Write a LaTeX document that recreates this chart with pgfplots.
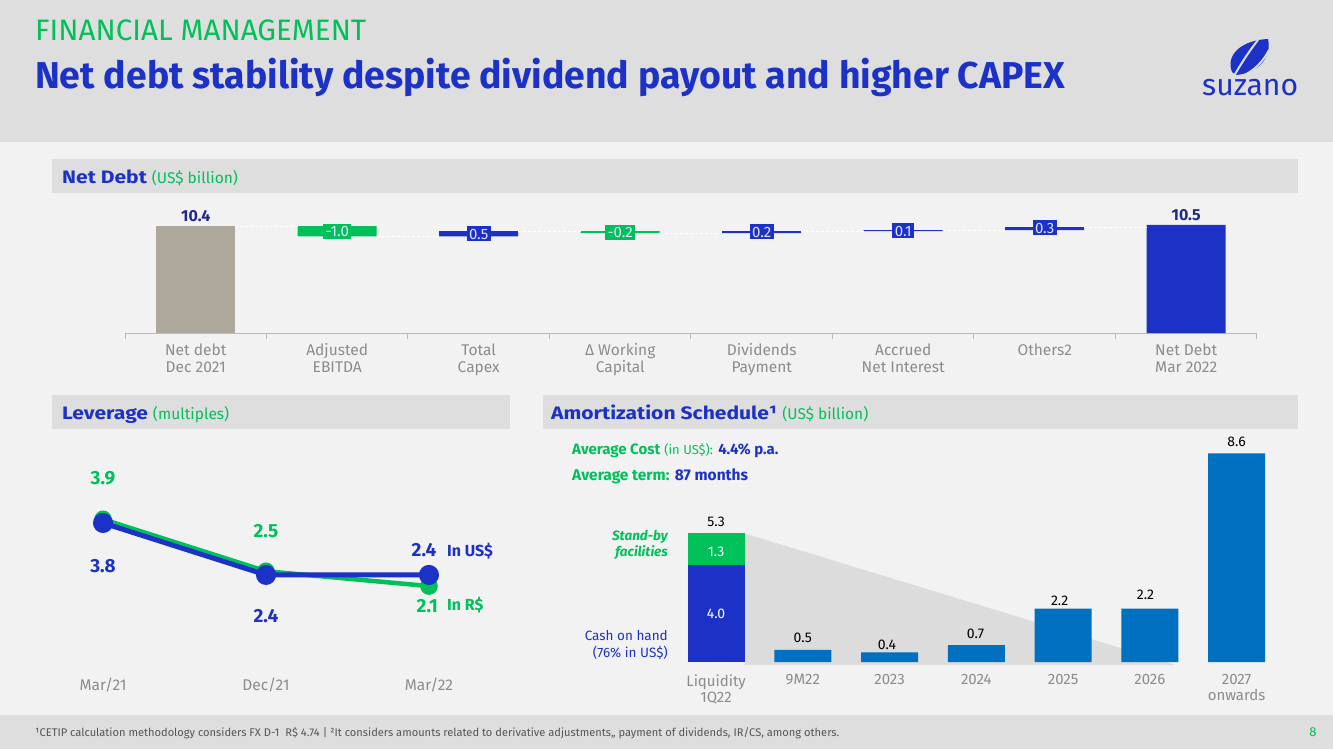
\documentclass[border=0pt]{standalone}
\usepackage{pgfplots}
\pgfplotsset{compat=1.18}
\usepackage{fontspec}
\setmainfont{Fira Sans}
\usepackage{graphicx}
\definecolor{sblue}{HTML}{1C31C5}
\definecolor{sgreen}{HTML}{00C05A}
\definecolor{sgray}{HTML}{ADA79C}
\definecolor{abar}{HTML}{0070C0}
\definecolor{bg}{HTML}{F2F2F2}
\definecolor{band}{HTML}{DEDEDE}
\definecolor{ticktxt}{HTML}{8C8C8C}
\definecolor{dblue}{HTML}{1F2A8A}
\definecolor{tri}{HTML}{DCDCDC}
\definecolor{foot}{HTML}{555555}
\newcommand\fs[2]{\fontsize{#1}{#2}\selectfont}
\newcommand\hdr[2]{\scalebox{1.17}[1]{\fs{18}{21}\bfseries\textcolor{sblue}{#1}}\hspace{5pt}\textcolor{sgreen}{\fs{15.5}{18}#2}}
\begin{document}
\begin{tikzpicture}[x=1pt,y=-1pt]
\path[use as bounding box] (0,0) rectangle (1333,749);
\fill[bg] (0,0) rectangle (1333,749);
\fill[band] (0,0) rectangle (1333,142);
\fill[band] (0,715) rectangle (1333,749);
\fill[band] (52,159) rectangle (1298,193);
\fill[band] (52,395) rectangle (510,429);
\fill[band] (543,395) rectangle (1298,429);
% header
\node[anchor=base west, inner sep=0, text=sgreen] at (35,41) {\resizebox{331pt}{!}{\fs{26}{30}FINANCIAL MANAGEMENT}};
\node[anchor=base west, inner sep=0, text=sblue] at (35,89) {\resizebox{1030pt}{!}{\fs{34}{40}\bfseries Net debt stability despite dividend payout and higher CAPEX}};
% logo
\fill[sblue] (1232,72) .. controls (1225,54) and (1243,40) .. (1268,39) .. controls (1272,57) and (1259,73) .. (1236,75) -- cycle;
\draw[band, line width=2pt] (1234,76) .. controls (1242,62) and (1250,50) .. (1258,40);
\draw[band, line width=2pt] (1240,77) .. controls (1253,72) and (1263,62) .. (1269,50);
\node[anchor=base west, inner sep=0, text=sblue] at (1202,96) {\resizebox{96pt}{!}{\fs{26}{30}suzano}};
% section headers
\node[anchor=base west, inner sep=0] at (62,183) {\hdr{Net Debt}{(US\$ billion)}};
\node[anchor=base west, inner sep=0] at (62,419) {\hdr{Leverage}{(multiples)}};
\node[anchor=base west, inner sep=0] at (551,419) {\hdr{Amortization Schedule¹}{(US\$ billion)}};
% footer
\node[anchor=base west, inner sep=0, text=foot] at (35,736) {\resizebox{804pt}{!}{\fs{11}{13}¹CETIP calculation methodology considers FX D-1~ R\$ 4.74 | ²It considers amounts related to derivative adjustments,, payment of dividends, IR/CS, among others.}};
\node[anchor=base, inner sep=0, text=sgreen] at (1313,736) {\fs{13}{15}8};

% ---------------- waterfall ----------------
\begin{axis}[at={(125pt,-333pt)}, anchor=south west, scale only axis,
  width=1132pt, height=120pt, xmin=-0.5, xmax=7.5, ymin=0, ymax=11.664,
  ybar stacked, reverse stacked plots=false, bar width=79pt, clip=false,
  axis x line*=bottom, axis y line=none,
  x axis line style={draw=ticktxt!60, line width=1pt, -},
  xtick={0,...,7}, major tick length=0pt,
  minor xtick={-0.5,0.5,...,7.5}, minor tick length=6pt,
  minor tick style={draw=ticktxt!60, line width=1pt},
  tick align=outside,
  xticklabels={{Net debt\\Dec 2021},{Adjusted\\EBITDA},{Total\\Capex},{Δ Working\\Capital},{Dividends\\Payment},{Accrued\\Net Interest},{Others2},{Net Debt\\Mar 2022}},
  xticklabel style={font=\fs{15.5}{17}, text=ticktxt, align=center, anchor=north, yshift=-7pt},
  ]
\addplot[draw=none, fill=none] coordinates {(0,0) (1,9.4) (2,9.4) (3,9.7) (4,9.7) (5,9.9) (6,10.0) (7,0)};
\addplot[draw=none, fill=sgray] coordinates {(0,10.4) (1,0) (2,0) (3,0) (4,0) (5,0) (6,0) (7,0)};
\addplot[draw=none, fill=sgreen] coordinates {(0,0) (1,1.0) (2,0) (3,0.2) (4,0) (5,0) (6,0) (7,0)};
\addplot[draw=none, fill=sblue] coordinates {(0,0) (1,0) (2,0.5) (3,0) (4,0.2) (5,0.1) (6,0.3) (7,10.5)};
\addplot[white, line width=0.8pt, densely dashed, sharp plot, stack plots=false, forget plot, unbounded coords=jump] coordinates {
 (0.28,10.4) (0.72,10.4) (0.8,nan)
 (1.28,9.4) (1.72,9.4) (1.8,nan)
 (2.28,9.9) (2.72,9.9) (2.8,nan)
 (3.28,9.7) (3.72,9.7) (3.8,nan)
 (4.28,9.9) (4.72,9.9) (4.8,nan)
 (5.28,10.0) (5.72,10.0) (5.8,nan)
 (6.28,10.3) (6.72,10.3)};
\tikzset{lbl/.style={text=white!88!blue, inner xsep=2.5pt, inner ysep=2pt, font=\fs{15}{17}, text height=11pt, text depth=0pt}}
\node[lbl, fill=sgreen] at (axis cs:1,9.9) {-1.0};
\node[lbl, fill=sblue] at (axis cs:2,9.65) {0.5};
\node[lbl, fill=sgreen] at (axis cs:3,9.8) {-0.2};
\node[lbl, fill=sblue] at (axis cs:4,9.85) {0.2};
\node[lbl, fill=sblue] at (axis cs:5,9.95) {0.1};
\node[lbl, fill=sblue] at (axis cs:6,10.25) {0.3};
\node[anchor=south, text=dblue, font=\fs{16}{18}\bfseries, inner sep=4pt] at (axis cs:0,10.4) {10.4};
\node[anchor=south, text=dblue, font=\fs{16}{18}\bfseries, inner sep=4pt] at (axis cs:7,10.5) {10.5};
\end{axis}

% ---------------- leverage ----------------
\begin{axis}[at={(60pt,-664pt)}, anchor=south west, scale only axis,
  width=434pt, height=167pt, xmin=-0.264, xmax=2.399, ymin=0, ymax=4.5,
  clip=false, axis x line*=bottom, axis y line=none,
  x axis line style={draw=none}, major tick length=0pt,
  xtick={0,1,2}, xticklabels={Mar/21,Dec/21,Mar/22},
  xticklabel style={font=\fs{15.5}{17}, text=ticktxt, anchor=north, yshift=-10pt},
  ]
\addplot[sgreen, line width=4.5pt, mark=*, mark size=6.5pt] coordinates {(0,3.9) (1,2.5) (2,2.1)};
\addplot[sblue, line width=5pt, mark=*, mark size=7.5pt] coordinates {(0,3.8) (1,2.4) (2,2.4)};
\tikzset{vl/.style={font=\fs{19}{22}\bfseries, inner sep=0pt}}
\node[vl, text=sgreen] at (axis cs:0,5.0) {3.9};
\node[vl, text=sblue] at (axis cs:0,2.65) {3.8};
\node[vl, text=sgreen] at (axis cs:1,3.58) {2.5};
\node[vl, text=sblue] at (axis cs:1,1.28) {2.4};
\node[vl, text=sblue] at (axis cs:1.97,3.06) {2.4};
\node[vl, text=sgreen] at (axis cs:1.99,1.55) {2.1};
\node[anchor=west, inner sep=0, text=sblue, font=\fs{16}{18}\bfseries] at (axis cs:2.11,3.05) {In US\$};
\node[anchor=west, inner sep=0, text=sgreen, font=\fs{16}{18}\bfseries] at (axis cs:2.11,1.58) {In R\$};
\end{axis}

% ---------------- amortization ----------------
\begin{axis}[at={(664pt,-662pt)}, anchor=south west, scale only axis,
  width=616pt, height=218.25pt, xmin=-0.6, xmax=6.5, ymin=0, ymax=9,
  ybar stacked, reverse stacked plots=false, bar width=57pt, clip=false,
  axis x line*=bottom, axis y line=none,
  x axis line style={draw=none}, major tick length=0pt,
  xtick={0,...,6},
  xticklabels={{Liquidity\\1Q22},9M22,2023,2024,2025,2026,{2027\\onwards}},
  xticklabel style={font=\fs{15}{16}, text=ticktxt, align=center, anchor=north, yshift=-9pt},
  ]
\addplot[draw=none, fill=tri, sharp plot, stack plots=false, forget plot] coordinates {(0.33,5.3) (0.33,-0.12) (5.3,-0.12)} -- cycle;
\addplot[draw=none, fill=sblue] coordinates {(0,4.0) (1,0) (2,0) (3,0) (4,0) (5,0) (6,0)};
\addplot[draw=none, fill=sgreen] coordinates {(0,1.3) (1,0) (2,0) (3,0) (4,0) (5,0) (6,0)};
\addplot[draw=none, fill=abar] coordinates {(0,0) (1,0.5) (2,0.4) (3,0.7) (4,2.2) (5,2.2) (6,8.6)};
\tikzset{al/.style={font=\fs{14}{16}, inner sep=0pt, anchor=south}}
\node[al] at (axis cs:0,5.58) {5.3};
\node[al, text=white] at (axis cs:0,4.32) {1.3};
\node[al, text=white] at (axis cs:0,1.78) {4.0};
\node[al] at (axis cs:1,0.78) {0.5};
\node[al] at (axis cs:1.97,0.52) {0.4};
\node[al] at (axis cs:2.99,0.94) {0.7};
\node[al] at (axis cs:3.96,2.32) {2.2};
\node[al] at (axis cs:4.95,2.55) {2.2};
\node[al] at (axis cs:6,8.87) {8.6};
\end{axis}
\node[anchor=base west, inner sep=0] at (572,454) {\fs{15}{17}\textcolor{sgreen}{\bfseries Average Cost} \textcolor{sgreen}{\fs{13}{15}(in US\$):} \textcolor{sblue}{\bfseries 4.4\% p.a.}};
\node[anchor=base west, inner sep=0] at (572,480) {\fs{15.5}{17}\textcolor{sgreen}{\bfseries Average term:} \textcolor{sblue}{\bfseries 87 months}};
\node[anchor=base east, inner sep=0, text=sgreen] at (668,540) {\fs{13.5}{16}\bfseries\itshape Stand-by};
\node[anchor=base east, inner sep=0, text=sgreen] at (668,556) {\fs{13.5}{16}\bfseries\itshape facilities};
\node[anchor=base east, inner sep=0, text=sblue] at (668,640) {\fs{13.5}{16}Cash on hand};
\node[anchor=base east, inner sep=0, text=sblue] at (668,657) {\fs{13.5}{16}(76\% in US\$)};
\end{tikzpicture}
\end{document}
